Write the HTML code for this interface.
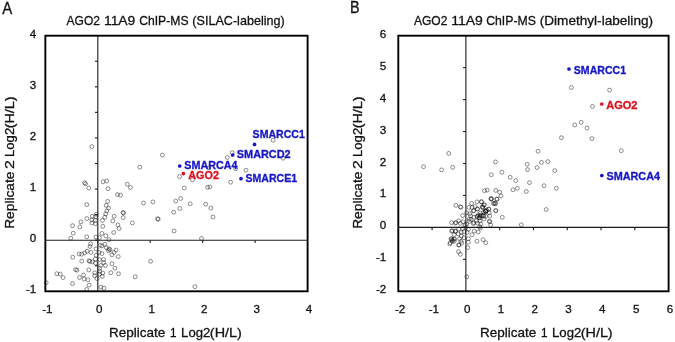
<!DOCTYPE html>
<html><head><meta charset="utf-8"><style>
html,body{margin:0;padding:0;background:#fff;}
svg{display:block;will-change:transform;}
text{font-family:"Liberation Sans",sans-serif;}
</style></head><body>
<svg width="675" height="342" viewBox="0 0 675 342">
<rect width="675" height="342" fill="#fff"/>
<g stroke="#000" stroke-opacity="0.46" stroke-width="0.95" fill="none"><circle cx="91.8" cy="146.7" r="1.95"/><circle cx="139.8" cy="167.2" r="1.95"/><circle cx="162.4" cy="155.1" r="1.95"/><circle cx="84.6" cy="182.8" r="1.95"/><circle cx="85.6" cy="183.8" r="1.95"/><circle cx="88.8" cy="188.1" r="1.95"/><circle cx="103.1" cy="181.8" r="1.95"/><circle cx="106.8" cy="181.0" r="1.95"/><circle cx="108.0" cy="188.7" r="1.95"/><circle cx="117.5" cy="194.6" r="1.95"/><circle cx="120.6" cy="195.2" r="1.95"/><circle cx="86.8" cy="204.6" r="1.95"/><circle cx="107.6" cy="201.4" r="1.95"/><circle cx="106.2" cy="205.4" r="1.95"/><circle cx="108.5" cy="208.2" r="1.95"/><circle cx="106.8" cy="210.9" r="1.95"/><circle cx="105.7" cy="213.9" r="1.95"/><circle cx="104.8" cy="217.2" r="1.95"/><circle cx="102.5" cy="220.4" r="1.95"/><circle cx="92.2" cy="216.3" r="1.95"/><circle cx="95.7" cy="216.8" r="1.95"/><circle cx="96.2" cy="214.3" r="1.95"/><circle cx="91.8" cy="219.8" r="1.95"/><circle cx="95.4" cy="220.4" r="1.95"/><circle cx="92.0" cy="223.0" r="1.95"/><circle cx="95.4" cy="223.7" r="1.95"/><circle cx="86.8" cy="218.6" r="1.95"/><circle cx="80.9" cy="221.9" r="1.95"/><circle cx="72.6" cy="225.7" r="1.95"/><circle cx="79.8" cy="226.9" r="1.95"/><circle cx="73.2" cy="233.2" r="1.95"/><circle cx="70.8" cy="238.2" r="1.95"/><circle cx="86.8" cy="236.8" r="1.95"/><circle cx="96.0" cy="237.0" r="1.95"/><circle cx="99.5" cy="237.6" r="1.95"/><circle cx="101.9" cy="233.4" r="1.95"/><circle cx="105.8" cy="235.8" r="1.95"/><circle cx="109.0" cy="239.6" r="1.95"/><circle cx="102.8" cy="226.3" r="1.95"/><circle cx="114.1" cy="216.3" r="1.95"/><circle cx="112.8" cy="221.0" r="1.95"/><circle cx="117.9" cy="224.9" r="1.95"/><circle cx="119.1" cy="228.5" r="1.95"/><circle cx="113.7" cy="232.5" r="1.95"/><circle cx="123.0" cy="212.5" r="1.95"/><circle cx="123.5" cy="213.0" r="1.95"/><circle cx="123.2" cy="217.6" r="1.95"/><circle cx="90.6" cy="243.8" r="1.95"/><circle cx="100.1" cy="245.3" r="1.95"/><circle cx="101.9" cy="245.9" r="1.95"/><circle cx="104.8" cy="244.3" r="1.95"/><circle cx="90.0" cy="246.5" r="1.95"/><circle cx="96.0" cy="248.9" r="1.95"/><circle cx="106.4" cy="247.7" r="1.95"/><circle cx="109.0" cy="248.9" r="1.95"/><circle cx="109.9" cy="249.7" r="1.95"/><circle cx="108.4" cy="250.7" r="1.95"/><circle cx="116.1" cy="250.1" r="1.95"/><circle cx="114.0" cy="252.4" r="1.95"/><circle cx="111.9" cy="254.8" r="1.95"/><circle cx="118.2" cy="256.6" r="1.95"/><circle cx="87.1" cy="251.3" r="1.95"/><circle cx="84.7" cy="253.0" r="1.95"/><circle cx="81.7" cy="254.2" r="1.95"/><circle cx="79.1" cy="254.0" r="1.95"/><circle cx="91.0" cy="252.4" r="1.95"/><circle cx="72.8" cy="257.2" r="1.95"/><circle cx="96.0" cy="255.4" r="1.95"/><circle cx="98.9" cy="252.4" r="1.95"/><circle cx="101.9" cy="253.6" r="1.95"/><circle cx="81.7" cy="261.1" r="1.95"/><circle cx="89.0" cy="260.8" r="1.95"/><circle cx="89.8" cy="261.4" r="1.95"/><circle cx="92.4" cy="261.9" r="1.95"/><circle cx="95.4" cy="259.0" r="1.95"/><circle cx="95.4" cy="263.1" r="1.95"/><circle cx="99.5" cy="259.5" r="1.95"/><circle cx="103.6" cy="259.5" r="1.95"/><circle cx="103.6" cy="262.5" r="1.95"/><circle cx="105.4" cy="265.5" r="1.95"/><circle cx="100.7" cy="265.5" r="1.95"/><circle cx="99.5" cy="268.4" r="1.95"/><circle cx="111.9" cy="263.7" r="1.95"/><circle cx="114.9" cy="268.2" r="1.95"/><circle cx="75.6" cy="269.6" r="1.95"/><circle cx="77.0" cy="270.2" r="1.95"/><circle cx="88.8" cy="269.9" r="1.95"/><circle cx="110.8" cy="272.7" r="1.95"/><circle cx="118.5" cy="273.8" r="1.95"/><circle cx="56.8" cy="273.7" r="1.95"/><circle cx="60.2" cy="274.1" r="1.95"/><circle cx="63.1" cy="277.6" r="1.95"/><circle cx="94.8" cy="272.9" r="1.95"/><circle cx="94.6" cy="275.6" r="1.95"/><circle cx="99.7" cy="271.3" r="1.95"/><circle cx="102.8" cy="273.0" r="1.95"/><circle cx="102.3" cy="276.4" r="1.95"/><circle cx="99.5" cy="274.1" r="1.95"/><circle cx="83.5" cy="275.0" r="1.95"/><circle cx="79.5" cy="277.5" r="1.95"/><circle cx="84.1" cy="279.0" r="1.95"/><circle cx="87.9" cy="279.8" r="1.95"/><circle cx="97.0" cy="278.6" r="1.95"/><circle cx="46.2" cy="282.7" r="1.95"/><circle cx="72.5" cy="283.6" r="1.95"/><circle cx="89.1" cy="285.1" r="1.95"/><circle cx="86.7" cy="289.5" r="1.95"/><circle cx="100.9" cy="287.1" r="1.95"/><circle cx="103.9" cy="288.1" r="1.95"/><circle cx="127.3" cy="184.2" r="1.95"/><circle cx="130.4" cy="187.5" r="1.95"/><circle cx="143.5" cy="203.0" r="1.95"/><circle cx="152.9" cy="201.9" r="1.95"/><circle cx="179.6" cy="176.6" r="1.95"/><circle cx="192.5" cy="179.8" r="1.95"/><circle cx="184.3" cy="187.9" r="1.95"/><circle cx="175.7" cy="201.0" r="1.95"/><circle cx="180.7" cy="198.5" r="1.95"/><circle cx="190.2" cy="203.8" r="1.95"/><circle cx="179.8" cy="208.5" r="1.95"/><circle cx="173.7" cy="212.2" r="1.95"/><circle cx="157.6" cy="218.7" r="1.95"/><circle cx="158.2" cy="219.3" r="1.95"/><circle cx="132.4" cy="222.9" r="1.95"/><circle cx="174.1" cy="231.0" r="1.95"/><circle cx="150.6" cy="261.3" r="1.95"/><circle cx="135.2" cy="276.8" r="1.95"/><circle cx="194.9" cy="286.7" r="1.95"/><circle cx="227.3" cy="157.5" r="1.95"/><circle cx="232.1" cy="152.6" r="1.95"/><circle cx="235.6" cy="168.7" r="1.95"/><circle cx="246.0" cy="170.2" r="1.95"/><circle cx="230.6" cy="182.2" r="1.95"/><circle cx="207.5" cy="187.3" r="1.95"/><circle cx="209.9" cy="186.9" r="1.95"/><circle cx="205.7" cy="204.2" r="1.95"/><circle cx="210.8" cy="208.1" r="1.95"/><circle cx="213.0" cy="217.0" r="1.95"/><circle cx="201.5" cy="238.4" r="1.95"/><circle cx="273.1" cy="140.2" r="1.95"/><circle cx="283.2" cy="158.2" r="1.95"/><circle cx="209.0" cy="167.8" r="1.95"/></g>
<g stroke="#1c1c1c" stroke-width="1.1" fill="none">
<line x1="45.35" y1="240.18" x2="307.6" y2="240.18"/>
<line x1="97.80" y1="35.7" x2="97.80" y2="291.3"/>
<line x1="95.00" y1="265.74" x2="97.80" y2="265.74"/>
<line x1="95.00" y1="240.18" x2="97.80" y2="240.18"/>
<line x1="95.00" y1="214.62" x2="97.80" y2="214.62"/>
<line x1="95.00" y1="189.06" x2="97.80" y2="189.06"/>
<line x1="95.00" y1="163.50" x2="97.80" y2="163.50"/>
<line x1="95.00" y1="137.94" x2="97.80" y2="137.94"/>
<line x1="95.00" y1="112.38" x2="97.80" y2="112.38"/>
<line x1="95.00" y1="86.82" x2="97.80" y2="86.82"/>
<line x1="95.00" y1="61.26" x2="97.80" y2="61.26"/>
<line x1="97.80" y1="240.18" x2="97.80" y2="242.98"/>
<line x1="150.25" y1="240.18" x2="150.25" y2="242.98"/>
<line x1="202.70" y1="240.18" x2="202.70" y2="242.98"/>
<line x1="255.15" y1="240.18" x2="255.15" y2="242.98"/>
</g>
<rect x="45.35" y="35.7" width="262.25" height="255.60" fill="none" stroke="#000" stroke-width="1.9"/>
<g stroke="#000" stroke-opacity="0.46" stroke-width="0.95" fill="none"><circle cx="448.7" cy="153.4" r="1.95"/><circle cx="423.5" cy="166.7" r="1.95"/><circle cx="441.6" cy="169.9" r="1.95"/><circle cx="452.7" cy="167.3" r="1.95"/><circle cx="455.9" cy="205.4" r="1.95"/><circle cx="460.4" cy="206.8" r="1.95"/><circle cx="460.9" cy="207.3" r="1.95"/><circle cx="462.7" cy="215.6" r="1.95"/><circle cx="468.9" cy="207.3" r="1.95"/><circle cx="471.6" cy="203.4" r="1.95"/><circle cx="476.9" cy="201.9" r="1.95"/><circle cx="481.3" cy="201.7" r="1.95"/><circle cx="484.4" cy="204.8" r="1.95"/><circle cx="482.7" cy="207.0" r="1.95"/><circle cx="472.0" cy="207.4" r="1.95"/><circle cx="473.8" cy="210.6" r="1.95"/><circle cx="477.3" cy="208.8" r="1.95"/><circle cx="475.1" cy="206.6" r="1.95"/><circle cx="469.8" cy="213.7" r="1.95"/><circle cx="466.7" cy="212.8" r="1.95"/><circle cx="470.7" cy="215.9" r="1.95"/><circle cx="469.3" cy="219.0" r="1.95"/><circle cx="471.1" cy="219.4" r="1.95"/><circle cx="473.8" cy="217.2" r="1.95"/><circle cx="477.3" cy="216.3" r="1.95"/><circle cx="478.2" cy="215.0" r="1.95"/><circle cx="480.4" cy="213.2" r="1.95"/><circle cx="479.6" cy="217.7" r="1.95"/><circle cx="481.8" cy="215.4" r="1.95"/><circle cx="483.6" cy="212.3" r="1.95"/><circle cx="485.8" cy="211.0" r="1.95"/><circle cx="486.7" cy="210.1" r="1.95"/><circle cx="488.9" cy="209.2" r="1.95"/><circle cx="489.3" cy="212.8" r="1.95"/><circle cx="489.8" cy="215.9" r="1.95"/><circle cx="485.8" cy="216.3" r="1.95"/><circle cx="484.0" cy="219.0" r="1.95"/><circle cx="480.0" cy="220.8" r="1.95"/><circle cx="476.4" cy="220.8" r="1.95"/><circle cx="473.8" cy="222.6" r="1.95"/><circle cx="489.3" cy="221.2" r="1.95"/><circle cx="491.1" cy="199.0" r="1.95"/><circle cx="496.9" cy="199.0" r="1.95"/><circle cx="494.2" cy="203.4" r="1.95"/><circle cx="495.6" cy="203.9" r="1.95"/><circle cx="495.8" cy="210.8" r="1.95"/><circle cx="458.7" cy="220.8" r="1.95"/><circle cx="456.0" cy="222.6" r="1.95"/><circle cx="451.6" cy="222.6" r="1.95"/><circle cx="460.4" cy="223.4" r="1.95"/><circle cx="463.1" cy="221.8" r="1.95"/><circle cx="466.7" cy="224.0" r="1.95"/><circle cx="469.3" cy="221.3" r="1.95"/><circle cx="473.3" cy="223.6" r="1.95"/><circle cx="477.3" cy="223.1" r="1.95"/><circle cx="480.9" cy="224.0" r="1.95"/><circle cx="480.4" cy="228.0" r="1.95"/><circle cx="489.8" cy="221.8" r="1.95"/><circle cx="490.7" cy="224.9" r="1.95"/><circle cx="451.6" cy="231.1" r="1.95"/><circle cx="455.6" cy="231.1" r="1.95"/><circle cx="458.7" cy="228.9" r="1.95"/><circle cx="462.7" cy="228.4" r="1.95"/><circle cx="468.4" cy="229.3" r="1.95"/><circle cx="454.2" cy="234.7" r="1.95"/><circle cx="458.2" cy="233.8" r="1.95"/><circle cx="461.3" cy="232.4" r="1.95"/><circle cx="464.0" cy="232.0" r="1.95"/><circle cx="467.1" cy="232.4" r="1.95"/><circle cx="474.2" cy="231.1" r="1.95"/><circle cx="478.2" cy="232.0" r="1.95"/><circle cx="472.0" cy="234.7" r="1.95"/><circle cx="461.3" cy="236.0" r="1.95"/><circle cx="464.0" cy="237.8" r="1.95"/><circle cx="459.6" cy="238.7" r="1.95"/><circle cx="468.4" cy="238.7" r="1.95"/><circle cx="451.6" cy="238.7" r="1.95"/><circle cx="454.7" cy="239.1" r="1.95"/><circle cx="452.4" cy="241.3" r="1.95"/><circle cx="450.2" cy="242.7" r="1.95"/><circle cx="449.8" cy="244.0" r="1.95"/><circle cx="454.2" cy="241.3" r="1.95"/><circle cx="460.9" cy="241.3" r="1.95"/><circle cx="458.7" cy="244.9" r="1.95"/><circle cx="461.8" cy="243.1" r="1.95"/><circle cx="468.4" cy="242.2" r="1.95"/><circle cx="467.7" cy="247.6" r="1.95"/><circle cx="476.9" cy="241.2" r="1.95"/><circle cx="483.1" cy="239.7" r="1.95"/><circle cx="485.8" cy="242.7" r="1.95"/><circle cx="455.3" cy="223.1" r="1.95"/><circle cx="452.4" cy="230.7" r="1.95"/><circle cx="455.3" cy="231.3" r="1.95"/><circle cx="458.9" cy="245.1" r="1.95"/><circle cx="458.5" cy="251.7" r="1.95"/><circle cx="460.4" cy="254.3" r="1.95"/><circle cx="466.8" cy="276.8" r="1.95"/><circle cx="479.7" cy="226.8" r="1.95"/><circle cx="521.3" cy="224.8" r="1.95"/><circle cx="515.7" cy="180.6" r="1.95"/><circle cx="529.5" cy="182.6" r="1.95"/><circle cx="544.1" cy="185.7" r="1.95"/><circle cx="556.4" cy="188.3" r="1.95"/><circle cx="484.5" cy="190.7" r="1.95"/><circle cx="487.2" cy="190.1" r="1.95"/><circle cx="495.8" cy="190.4" r="1.95"/><circle cx="499.7" cy="192.2" r="1.95"/><circle cx="501.0" cy="195.9" r="1.95"/><circle cx="513.0" cy="189.8" r="1.95"/><circle cx="517.3" cy="188.3" r="1.95"/><circle cx="526.3" cy="191.5" r="1.95"/><circle cx="491.0" cy="198.5" r="1.95"/><circle cx="491.6" cy="198.9" r="1.95"/><circle cx="497.0" cy="199.2" r="1.95"/><circle cx="493.4" cy="203.5" r="1.95"/><circle cx="495.2" cy="203.1" r="1.95"/><circle cx="495.8" cy="210.5" r="1.95"/><circle cx="502.3" cy="217.3" r="1.95"/><circle cx="546.2" cy="209.5" r="1.95"/><circle cx="481.6" cy="201.9" r="1.95"/><circle cx="483.9" cy="205.1" r="1.95"/><circle cx="482.7" cy="207.8" r="1.95"/><circle cx="485.7" cy="211.4" r="1.95"/><circle cx="488.7" cy="209.0" r="1.95"/><circle cx="480.4" cy="215.5" r="1.95"/><circle cx="483.3" cy="215.5" r="1.95"/><circle cx="479.2" cy="217.9" r="1.95"/><circle cx="495.5" cy="161.9" r="1.95"/><circle cx="491.3" cy="174.7" r="1.95"/><circle cx="501.9" cy="172.2" r="1.95"/><circle cx="510.2" cy="177.3" r="1.95"/><circle cx="527.2" cy="164.3" r="1.95"/><circle cx="527.5" cy="169.6" r="1.95"/><circle cx="538.1" cy="151.3" r="1.95"/><circle cx="541.5" cy="162.4" r="1.95"/><circle cx="547.8" cy="161.6" r="1.95"/><circle cx="537.0" cy="167.5" r="1.95"/><circle cx="554.8" cy="170.6" r="1.95"/><circle cx="592.5" cy="106.4" r="1.95"/><circle cx="574.8" cy="124.9" r="1.95"/><circle cx="581.2" cy="122.3" r="1.95"/><circle cx="587.1" cy="128.1" r="1.95"/><circle cx="561.4" cy="137.7" r="1.95"/><circle cx="591.9" cy="138.6" r="1.95"/><circle cx="571.4" cy="87.5" r="1.95"/><circle cx="609.6" cy="90.1" r="1.95"/><circle cx="621.3" cy="150.7" r="1.95"/><circle cx="451.0" cy="238.8" r="1.95"/><circle cx="453.5" cy="239.3" r="1.95"/><circle cx="452.0" cy="240.3" r="1.95"/><circle cx="465.2" cy="224.8" r="1.95"/><circle cx="465.8" cy="227.8" r="1.95"/><circle cx="477.0" cy="216.5" r="1.95"/><circle cx="485.3" cy="211.0" r="1.95"/><circle cx="485.9" cy="211.6" r="1.95"/><circle cx="482.4" cy="206.6" r="1.95"/><circle cx="479.6" cy="215.9" r="1.95"/><circle cx="483.6" cy="216.1" r="1.95"/><circle cx="477.6" cy="209.2" r="1.95"/><circle cx="473.5" cy="210.9" r="1.95"/></g>
<g stroke="#1c1c1c" stroke-width="1.1" fill="none">
<line x1="398.3" y1="227.40" x2="668.6" y2="227.40"/>
<line x1="465.88" y1="35.7" x2="465.88" y2="291.3"/>
<line x1="463.07" y1="259.35" x2="465.88" y2="259.35"/>
<line x1="463.07" y1="195.45" x2="465.88" y2="195.45"/>
<line x1="463.07" y1="163.50" x2="465.88" y2="163.50"/>
<line x1="463.07" y1="131.55" x2="465.88" y2="131.55"/>
<line x1="463.07" y1="99.60" x2="465.88" y2="99.60"/>
<line x1="463.07" y1="67.65" x2="465.88" y2="67.65"/>
<line x1="432.09" y1="227.40" x2="432.09" y2="230.20"/>
<line x1="499.66" y1="227.40" x2="499.66" y2="230.20"/>
<line x1="533.45" y1="227.40" x2="533.45" y2="230.20"/>
<line x1="567.24" y1="227.40" x2="567.24" y2="230.20"/>
<line x1="601.03" y1="227.40" x2="601.03" y2="230.20"/>
<line x1="634.81" y1="227.40" x2="634.81" y2="230.20"/>
</g>
<rect x="398.3" y="35.7" width="270.30" height="255.60" fill="none" stroke="#000" stroke-width="1.9"/>
<circle cx="254.5" cy="144.4" r="1.85" fill="#1616c6"/>
<circle cx="232.7" cy="155.0" r="1.85" fill="#1616c6"/>
<circle cx="179.7" cy="166.0" r="1.85" fill="#1616c6"/>
<circle cx="183.4" cy="173.6" r="1.85" fill="#dc121e"/>
<circle cx="241.0" cy="178.7" r="1.85" fill="#1616c6"/>
<circle cx="569.0" cy="69.0" r="1.85" fill="#1616c6"/>
<circle cx="601.8" cy="104.0" r="1.85" fill="#dc121e"/>
<circle cx="601.8" cy="175.5" r="1.85" fill="#1616c6"/>
<text x="252.61" y="138.20000000000002" font-size="11.2" font-weight="bold" fill="#1616c6" stroke="#1616c6" stroke-width="0.32" textLength="52.16" lengthAdjust="spacingAndGlyphs">SMARCC1</text>
<text x="236.81" y="158.0" font-size="11.2" font-weight="bold" fill="#1616c6" stroke="#1616c6" stroke-width="0.32" textLength="53.87" lengthAdjust="spacingAndGlyphs">SMARCD2</text>
<text x="184.31" y="168.8" font-size="11.2" font-weight="bold" fill="#1616c6" stroke="#1616c6" stroke-width="0.32" textLength="53.08" lengthAdjust="spacingAndGlyphs">SMARCA4</text>
<text x="188.30" y="179.4" font-size="11.2" font-weight="bold" fill="#dc121e" stroke="#dc121e" stroke-width="0.32" textLength="30.63" lengthAdjust="spacingAndGlyphs">AGO2</text>
<text x="245.51" y="181.70000000000002" font-size="11.2" font-weight="bold" fill="#1616c6" stroke="#1616c6" stroke-width="0.32" textLength="51.54" lengthAdjust="spacingAndGlyphs">SMARCE1</text>
<text x="573.81" y="73.7" font-size="11.2" font-weight="bold" fill="#1616c6" stroke="#1616c6" stroke-width="0.32" textLength="52.26" lengthAdjust="spacingAndGlyphs">SMARCC1</text>
<text x="606.20" y="108.8" font-size="11.2" font-weight="bold" fill="#dc121e" stroke="#dc121e" stroke-width="0.32" textLength="31.23" lengthAdjust="spacingAndGlyphs">AGO2</text>
<text x="606.41" y="179.9" font-size="11.2" font-weight="bold" fill="#1616c6" stroke="#1616c6" stroke-width="0.32" textLength="53.58" lengthAdjust="spacingAndGlyphs">SMARCA4</text>
<text x="66.58" y="24.8" font-size="13.6" font-weight="normal" fill="#111" stroke="#111" stroke-width="0.3" textLength="33.36" lengthAdjust="spacingAndGlyphs">AGO2</text>
<text x="103.98" y="24.8" font-size="13.6" font-weight="normal" fill="#111" stroke="#111" stroke-width="0.3" textLength="31.38" lengthAdjust="spacingAndGlyphs">11A9</text>
<text x="139.15" y="24.8" font-size="13.6" font-weight="normal" fill="#111" stroke="#111" stroke-width="0.3" textLength="49.36" lengthAdjust="spacingAndGlyphs">ChIP-MS</text>
<text x="192.35" y="24.8" font-size="13.6" font-weight="normal" fill="#111" stroke="#111" stroke-width="0.3" textLength="92.37" lengthAdjust="spacingAndGlyphs">(SILAC-labeling)</text>
<text x="413.98" y="24.8" font-size="13.6" font-weight="normal" fill="#111" stroke="#111" stroke-width="0.3" textLength="33.46" lengthAdjust="spacingAndGlyphs">AGO2</text>
<text x="451.18" y="24.8" font-size="13.6" font-weight="normal" fill="#111" stroke="#111" stroke-width="0.3" textLength="31.59" lengthAdjust="spacingAndGlyphs">11A9</text>
<text x="486.15" y="24.8" font-size="13.6" font-weight="normal" fill="#111" stroke="#111" stroke-width="0.3" textLength="49.77" lengthAdjust="spacingAndGlyphs">ChIP-MS</text>
<text x="539.70" y="24.8" font-size="13.6" font-weight="normal" fill="#111" stroke="#111" stroke-width="0.3" textLength="113.37" lengthAdjust="spacingAndGlyphs">(Dimethyl-labeling)</text>
<text x="109.00" y="336.6" font-size="13.5" font-weight="normal" fill="#111" stroke="#111" stroke-width="0.3" textLength="56.28" lengthAdjust="spacingAndGlyphs">Replicate</text>
<text x="170.02" y="336.6" font-size="13.5" font-weight="normal" fill="#111" stroke="#111" stroke-width="0.3" textLength="6.52" lengthAdjust="spacingAndGlyphs">1</text>
<text x="181.12" y="336.6" font-size="13.5" font-weight="normal" fill="#111" stroke="#111" stroke-width="0.3" textLength="29.30" lengthAdjust="spacingAndGlyphs">Log2</text>
<text x="209.86" y="336.6" font-size="13.5" font-weight="normal" fill="#111" stroke="#111" stroke-width="0.3" textLength="31.89" lengthAdjust="spacingAndGlyphs">(H/L)</text>
<text x="479.90" y="336.6" font-size="13.5" font-weight="normal" fill="#111" stroke="#111" stroke-width="0.3" textLength="56.28" lengthAdjust="spacingAndGlyphs">Replicate</text>
<text x="540.92" y="336.6" font-size="13.5" font-weight="normal" fill="#111" stroke="#111" stroke-width="0.3" textLength="6.52" lengthAdjust="spacingAndGlyphs">1</text>
<text x="552.02" y="336.6" font-size="13.5" font-weight="normal" fill="#111" stroke="#111" stroke-width="0.3" textLength="29.30" lengthAdjust="spacingAndGlyphs">Log2</text>
<text x="580.76" y="336.6" font-size="13.5" font-weight="normal" fill="#111" stroke="#111" stroke-width="0.3" textLength="31.89" lengthAdjust="spacingAndGlyphs">(H/L)</text>
<text transform="translate(14.3,228.83) rotate(-90)" font-size="13.3" font-weight="normal" fill="#111" stroke="#111" stroke-width="0.3" textLength="57.29" lengthAdjust="spacingAndGlyphs">Replicate</text>
<text transform="translate(14.3,169.00) rotate(-90)" font-size="13.3" font-weight="normal" fill="#111" stroke="#111" stroke-width="0.3" textLength="8.90" lengthAdjust="spacingAndGlyphs">2</text>
<text transform="translate(14.3,156.99) rotate(-90)" font-size="13.3" font-weight="normal" fill="#111" stroke="#111" stroke-width="0.3" textLength="29.17" lengthAdjust="spacingAndGlyphs">Log2</text>
<text transform="translate(14.3,128.36) rotate(-90)" font-size="13.3" font-weight="normal" fill="#111" stroke="#111" stroke-width="0.3" textLength="31.97" lengthAdjust="spacingAndGlyphs">(H/L)</text>
<text transform="translate(362.3,228.83) rotate(-90)" font-size="13.3" font-weight="normal" fill="#111" stroke="#111" stroke-width="0.3" textLength="57.29" lengthAdjust="spacingAndGlyphs">Replicate</text>
<text transform="translate(362.3,169.00) rotate(-90)" font-size="13.3" font-weight="normal" fill="#111" stroke="#111" stroke-width="0.3" textLength="8.90" lengthAdjust="spacingAndGlyphs">2</text>
<text transform="translate(362.3,156.99) rotate(-90)" font-size="13.3" font-weight="normal" fill="#111" stroke="#111" stroke-width="0.3" textLength="29.17" lengthAdjust="spacingAndGlyphs">Log2</text>
<text transform="translate(362.3,128.36) rotate(-90)" font-size="13.3" font-weight="normal" fill="#111" stroke="#111" stroke-width="0.3" textLength="31.97" lengthAdjust="spacingAndGlyphs">(H/L)</text>
<text x="36.3" y="293.30" font-size="11.6" fill="#111" font-weight="normal" text-anchor="end" stroke="#111" stroke-width="0.3">-1</text>
<text x="47.35" y="312.7" font-size="11.6" fill="#111" font-weight="normal" text-anchor="middle" stroke="#111" stroke-width="0.3">-1</text>
<text x="36.3" y="242.18" font-size="11.6" fill="#111" font-weight="normal" text-anchor="end" stroke="#111" stroke-width="0.3">0</text>
<text x="99.30" y="312.7" font-size="11.6" fill="#111" font-weight="normal" text-anchor="middle" stroke="#111" stroke-width="0.3">0</text>
<text x="36.3" y="191.06" font-size="11.6" fill="#111" font-weight="normal" text-anchor="end" stroke="#111" stroke-width="0.3">1</text>
<text x="151.75" y="312.7" font-size="11.6" fill="#111" font-weight="normal" text-anchor="middle" stroke="#111" stroke-width="0.3">1</text>
<text x="36.3" y="139.94" font-size="11.6" fill="#111" font-weight="normal" text-anchor="end" stroke="#111" stroke-width="0.3">2</text>
<text x="204.20" y="312.7" font-size="11.6" fill="#111" font-weight="normal" text-anchor="middle" stroke="#111" stroke-width="0.3">2</text>
<text x="36.3" y="88.82" font-size="11.6" fill="#111" font-weight="normal" text-anchor="end" stroke="#111" stroke-width="0.3">3</text>
<text x="256.65" y="312.7" font-size="11.6" fill="#111" font-weight="normal" text-anchor="middle" stroke="#111" stroke-width="0.3">3</text>
<text x="36.3" y="37.70" font-size="11.6" fill="#111" font-weight="normal" text-anchor="end" stroke="#111" stroke-width="0.3">4</text>
<text x="309.10" y="312.7" font-size="11.6" fill="#111" font-weight="normal" text-anchor="middle" stroke="#111" stroke-width="0.3">4</text>
<text x="386.3" y="293.30" font-size="11.6" fill="#111" font-weight="normal" text-anchor="end" stroke="#111" stroke-width="0.3">-2</text>
<text x="400.10" y="312.7" font-size="11.6" fill="#111" font-weight="normal" text-anchor="middle" stroke="#111" stroke-width="0.3">-2</text>
<text x="386.3" y="261.35" font-size="11.6" fill="#111" font-weight="normal" text-anchor="end" stroke="#111" stroke-width="0.3">-1</text>
<text x="433.89" y="312.7" font-size="11.6" fill="#111" font-weight="normal" text-anchor="middle" stroke="#111" stroke-width="0.3">-1</text>
<text x="386.3" y="229.40" font-size="11.6" fill="#111" font-weight="normal" text-anchor="end" stroke="#111" stroke-width="0.3">0</text>
<text x="467.18" y="312.7" font-size="11.6" fill="#111" font-weight="normal" text-anchor="middle" stroke="#111" stroke-width="0.3">0</text>
<text x="386.3" y="197.45" font-size="11.6" fill="#111" font-weight="normal" text-anchor="end" stroke="#111" stroke-width="0.3">1</text>
<text x="500.96" y="312.7" font-size="11.6" fill="#111" font-weight="normal" text-anchor="middle" stroke="#111" stroke-width="0.3">1</text>
<text x="386.3" y="165.50" font-size="11.6" fill="#111" font-weight="normal" text-anchor="end" stroke="#111" stroke-width="0.3">2</text>
<text x="534.75" y="312.7" font-size="11.6" fill="#111" font-weight="normal" text-anchor="middle" stroke="#111" stroke-width="0.3">2</text>
<text x="386.3" y="133.55" font-size="11.6" fill="#111" font-weight="normal" text-anchor="end" stroke="#111" stroke-width="0.3">3</text>
<text x="568.54" y="312.7" font-size="11.6" fill="#111" font-weight="normal" text-anchor="middle" stroke="#111" stroke-width="0.3">3</text>
<text x="386.3" y="101.60" font-size="11.6" fill="#111" font-weight="normal" text-anchor="end" stroke="#111" stroke-width="0.3">4</text>
<text x="602.33" y="312.7" font-size="11.6" fill="#111" font-weight="normal" text-anchor="middle" stroke="#111" stroke-width="0.3">4</text>
<text x="386.3" y="69.65" font-size="11.6" fill="#111" font-weight="normal" text-anchor="end" stroke="#111" stroke-width="0.3">5</text>
<text x="636.11" y="312.7" font-size="11.6" fill="#111" font-weight="normal" text-anchor="middle" stroke="#111" stroke-width="0.3">5</text>
<text x="386.3" y="37.70" font-size="11.6" fill="#111" font-weight="normal" text-anchor="end" stroke="#111" stroke-width="0.3">6</text>
<text x="669.90" y="312.7" font-size="11.6" fill="#111" font-weight="normal" text-anchor="middle" stroke="#111" stroke-width="0.3">6</text>
<text x="2.2" y="13.5" font-size="15.6" fill="#111" font-weight="normal" text-anchor="start" textLength="10.0" lengthAdjust="spacingAndGlyphs" stroke="#111" stroke-width="0.3">A</text>
<text x="349.9" y="13.4" font-size="15.6" fill="#111" font-weight="normal" text-anchor="start" textLength="9.6" lengthAdjust="spacingAndGlyphs" stroke="#111" stroke-width="0.3">B</text>
</svg>
</body></html>
